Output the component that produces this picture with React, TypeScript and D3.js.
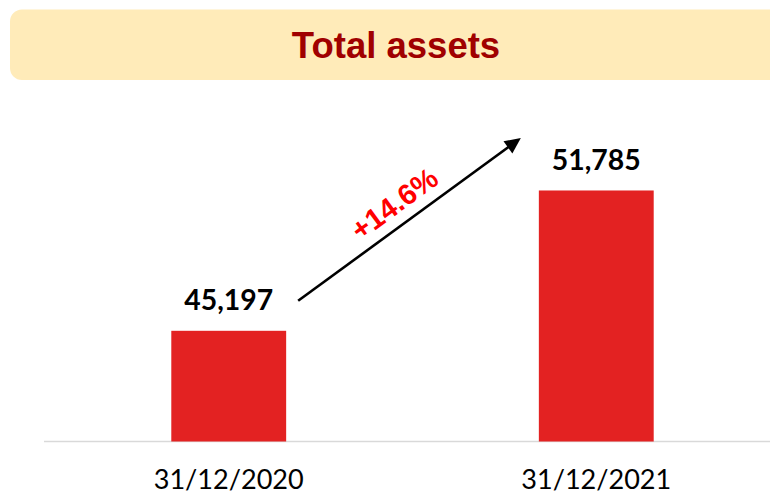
import React from "react";
import * as d3 from "d3";

const title = "Total assets";
const categories = ["31/12/2020", "31/12/2021"];
const values = [45197, 51785];
const yDomain = [40000, 55000];

const W = 770;
const H = 498;

export default function App() {
  const x = d3
    .scaleBand<string>()
    .domain(categories)
    .range([44.5, 780.5])
    .paddingInner(0.6875)
    .paddingOuter(0.345);
  const y = d3.scaleLinear().domain(yDomain).range([441.5, 122]);
  const fmt = d3.format(",");
  const growth = (values[1] / values[0] - 1) * 100;
  const growthText = "+" + d3.format(".1f")(growth) + "%";

  const bw = x.bandwidth();
  // arrow from right of first label to left of second label
  const x0 = (x(categories[0]) as number) + bw + 12;
  const y0 = y(values[0]) - 30;
  const x1 = (x(categories[1]) as number) - 18;
  const y1 = y(values[1]) - 52.5;
  const dx = x1 - x0;
  const dy = y1 - y0;
  const len = Math.sqrt(dx * dx + dy * dy);
  const ux = dx / len;
  const uy = dy / len;
  const nx = uy; // normal pointing up-left
  const ny = -ux;
  const headL = 16;
  const headW = 7.5;
  const bx = x1 - ux * headL;
  const by = y1 - uy * headL;
  const head = [
    [x1, y1],
    [bx - uy * headW, by + ux * headW],
    [bx + uy * headW, by - ux * headW],
  ];
  const angle = (Math.atan2(dy, dx) * 180) / Math.PI;
  const mx = (x0 + x1) / 2 + nx * 21.5 - ux * 3;
  const my = (y0 + y1) / 2 + ny * 21.5 - uy * 3;

  return (
    <svg
      width={W}
      height={H}
      style={{ position: "absolute", left: 0, top: 0, background: "#fff" }}
    >
      <rect x={10} y={9.5} width={800} height={70.5} rx={12} ry={12} fill="#FFEBB9" />
      <text
        x={396}
        y={57.7}
        textAnchor="middle"
        fontFamily="'Liberation Sans', Arial, sans-serif"
        fontWeight="bold"
        fontSize={36.5}
        fill="#A00000"
      >
        {title}
      </text>

      <line x1={44} x2={W} y1={441.5} y2={441.5} stroke="#D9D9D9" strokeWidth={1.5} />

      {categories.map((c, i) => (
        <g key={c}>
          <rect
            x={x(c)}
            y={y(values[i])}
            width={bw}
            height={y(yDomain[0]) - y(values[i])}
            fill="#E32222"
          />
          <text
            x={(x(c) as number) + bw / 2}
            y={y(values[i]) - 20.5}
            textAnchor="middle"
            fontFamily="Lato, 'Open Sans', sans-serif"
            fontWeight="bold"
            fontSize={28}
            fill="#000"
            textLength={89}
            lengthAdjust="spacingAndGlyphs"
          >
            {fmt(values[i])}
          </text>
          <text
            x={(x(c) as number) + bw / 2}
            y={489.3}
            textAnchor="middle"
            fontFamily="Lato, 'Open Sans', sans-serif"
            fontSize={26}
            fill="#000"
            textLength={150}
            lengthAdjust="spacingAndGlyphs"
          >
            {c}
          </text>
        </g>
      ))}

      <line x1={x0} y1={y0} x2={bx + ux * 2} y2={by + uy * 2} stroke="#000" strokeWidth={2.6} />
      <polygon points={head.map((p) => p.join(",")).join(" ")} fill="#000" />
      <text
        x={mx}
        y={my}
        transform={`rotate(${angle} ${mx} ${my})`}
        textAnchor="middle"
        dominantBaseline="central"
        fontFamily="'Liberation Sans', Arial, sans-serif"
        fontWeight="bold"
        fontSize={29}
        fill="#FF0000"
      >
        {growthText}
      </text>
    </svg>
  );
}
